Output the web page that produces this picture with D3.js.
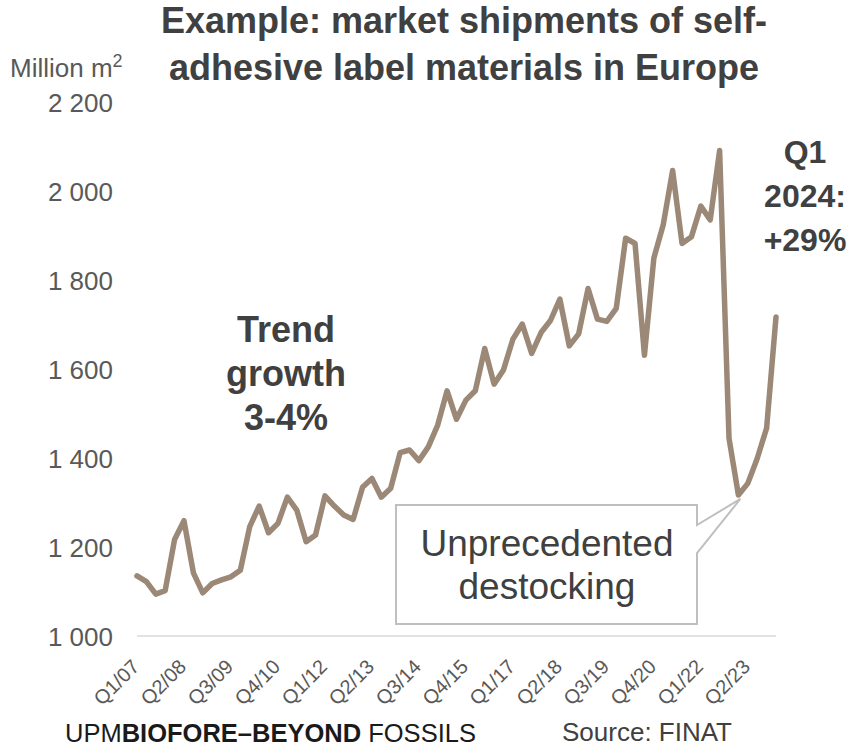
<!DOCTYPE html>
<html>
<head>
<meta charset="utf-8">
<script src="https://cdn.jsdelivr.net/npm/d3@7"></script>
<style>
  html, body { margin: 0; padding: 0; background: #fff; }
  svg { display: block; }
  text { font-family: "Liberation Sans", Arial, sans-serif; }
</style>
</head>
<body>
<svg id="chart" width="852" height="749"></svg>
<script>
// ---- data ----
const quarters = [
  "Q1/07","Q2/07","Q3/07","Q4/07","Q1/08","Q2/08","Q3/08","Q4/08",
  "Q1/09","Q2/09","Q3/09","Q4/09","Q1/10","Q2/10","Q3/10","Q4/10",
  "Q1/11","Q2/11","Q3/11","Q4/11","Q1/12","Q2/12","Q3/12","Q4/12",
  "Q1/13","Q2/13","Q3/13","Q4/13","Q1/14","Q2/14","Q3/14","Q4/14",
  "Q1/15","Q2/15","Q3/15","Q4/15","Q1/16","Q2/16","Q3/16","Q4/16",
  "Q1/17","Q2/17","Q3/17","Q4/17","Q1/18","Q2/18","Q3/18","Q4/18",
  "Q1/19","Q2/19","Q3/19","Q4/19","Q1/20","Q2/20","Q3/20","Q4/20",
  "Q1/21","Q2/21","Q3/21","Q4/21","Q1/22","Q2/22","Q3/22","Q4/22",
  "Q1/23","Q2/23","Q3/23","Q4/23","Q1/24"
];
const shipments = [
  1135, 1122, 1094, 1102, 1217, 1259, 1142, 1097,
  1118, 1126, 1133, 1148, 1246, 1292, 1232, 1253,
  1312, 1283, 1212, 1227, 1315, 1292, 1272, 1262,
  1334, 1354, 1312, 1332, 1412, 1418, 1394, 1425,
  1474, 1551, 1487, 1530, 1551, 1646, 1566, 1598,
  1667, 1701, 1635, 1682, 1709, 1757, 1652, 1679,
  1781, 1712, 1707, 1736, 1894, 1882, 1631, 1849,
  1924, 2046, 1882, 1897, 1966, 1935, 2091, 1444,
  1317, 1343, 1399, 1467, 1717
];
const xTickLabels = ["Q1/07","Q2/08","Q3/09","Q4/10","Q1/12","Q2/13","Q3/14",
                     "Q4/15","Q1/17","Q2/18","Q3/19","Q4/20","Q1/22","Q2/23"];
const yTickValues = [1000, 1200, 1400, 1600, 1800, 2000, 2200];
const titleLines = ["Example: market shipments of self-", "adhesive label materials in Europe"];
const trendLines = ["Trend", "growth", "3-4%"];
const q1Lines = ["Q1", "2024:", "+29%"];
const calloutLines = ["Unprecedented", "destocking"];

// ---- layout ----
const svg = d3.select("#chart");
const x = d3.scalePoint().domain(quarters).range([137, 776]);
const y = d3.scaleLinear().domain([1000, 2200]).range([636, 102]);

const textDark = "#404040";
const tickGrey = "#595959";

// x baseline
svg.append("line")
  .attr("x1", x(quarters[0])).attr("x2", x(quarters[quarters.length - 1]))
  .attr("y1", y(1000)).attr("y2", y(1000))
  .attr("stroke", "#d9d9d9").attr("stroke-width", 1.5);

// y axis (labels only)
const fmt = v => d3.format(",")(v).replace(/,/g, " ");
const yAxis = d3.axisLeft(y).tickValues(yTickValues).tickFormat(fmt).tickSize(0).tickPadding(0);
const yg = svg.append("g").attr("transform", "translate(113,0)").call(yAxis);
yg.select(".domain").remove();
yg.selectAll("text")
  .attr("font-family", "Liberation Sans, Arial, sans-serif")
  .attr("font-size", 26).attr("fill", tickGrey).attr("dy", "0.35em");

// x axis labels
const xAxis = d3.axisBottom(x).tickValues(xTickLabels).tickSize(0).tickPadding(0);
const xg = svg.append("g").attr("transform", "translate(0,636)").call(xAxis);
xg.select(".domain").remove();
xg.selectAll("text")
  .attr("font-family", "Liberation Sans, Arial, sans-serif")
  .attr("font-size", 20).attr("fill", tickGrey)
  .attr("text-anchor", "end")
  .attr("dy", null).attr("y", 0)
  .attr("transform", "translate(3,32) rotate(-45)");

// line
const line = d3.line().x((d, i) => x(quarters[i])).y(d => y(d));
svg.append("path")
  .datum(shipments)
  .attr("d", line)
  .attr("fill", "none")
  .attr("stroke", "#9b8877")
  .attr("stroke-width", 5.5)
  .attr("stroke-linejoin", "round")
  .attr("stroke-linecap", "round");

// callout pointing to Q1/23 trough
const tip = [x("Q1/23") + 2, y(shipments[quarters.indexOf("Q1/23")]) + 4];
const cp = d3.path();
cp.moveTo(396, 505); cp.lineTo(697, 505); cp.lineTo(697, 525);
cp.lineTo(tip[0], tip[1]); cp.lineTo(697, 553); cp.lineTo(697, 624);
cp.lineTo(396, 624); cp.closePath();
svg.append("path").attr("d", cp.toString())
  .attr("fill", "#fff").attr("stroke", "#bfbfbf").attr("stroke-width", 2);
svg.append("text").attr("text-anchor", "middle")
  .attr("font-size", 37).attr("fill", textDark)
  .selectAll("tspan").data(calloutLines).join("tspan")
  .attr("x", 547).attr("y", (d, i) => 556 + i * 43).text(d => d);

// title
svg.append("text").attr("text-anchor", "middle")
  .attr("font-size", 36).attr("font-weight", "bold").attr("fill", textDark)
  .selectAll("tspan").data(titleLines).join("tspan")
  .attr("x", 464).attr("y", (d, i) => 33 + i * 47).text(d => d);

// unit label
const ut = svg.append("text").attr("x", 10).attr("y", 77)
  .attr("font-size", 26).attr("fill", tickGrey);
ut.append("tspan").text("Million m");
ut.append("tspan").attr("font-size", 18).attr("dy", -10).text("2");

// trend annotation
svg.append("text").attr("text-anchor", "middle")
  .attr("font-size", 36).attr("font-weight", "bold").attr("fill", textDark)
  .selectAll("tspan").data(trendLines).join("tspan")
  .attr("x", 286).attr("y", (d, i) => 342 + i * 44).text(d => d);

// Q1 2024 annotation
svg.append("text").attr("text-anchor", "middle")
  .attr("font-size", 32).attr("font-weight", "bold").attr("fill", textDark)
  .selectAll("tspan").data(q1Lines).join("tspan")
  .attr("x", 805).attr("y", (d, i) => 163 + i * 44).text(d => d);

// footer
const logo = svg.append("text").attr("x", 65).attr("y", 742)
  .attr("font-family", "Lato, 'Open Sans', sans-serif")
  .attr("font-size", 25.5).attr("fill", "#1a1a1a");
logo.append("tspan").attr("font-weight", 300).text("UPM");
logo.append("tspan").attr("font-weight", 900).text("BIOFORE–BEYOND");
logo.append("tspan").attr("font-weight", 300).text(" FOSSILS");

svg.append("text").attr("x", 562).attr("y", 741)
  .attr("font-size", 26).attr("fill", textDark).text("Source: FINAT");
</script>
</body>
</html>
